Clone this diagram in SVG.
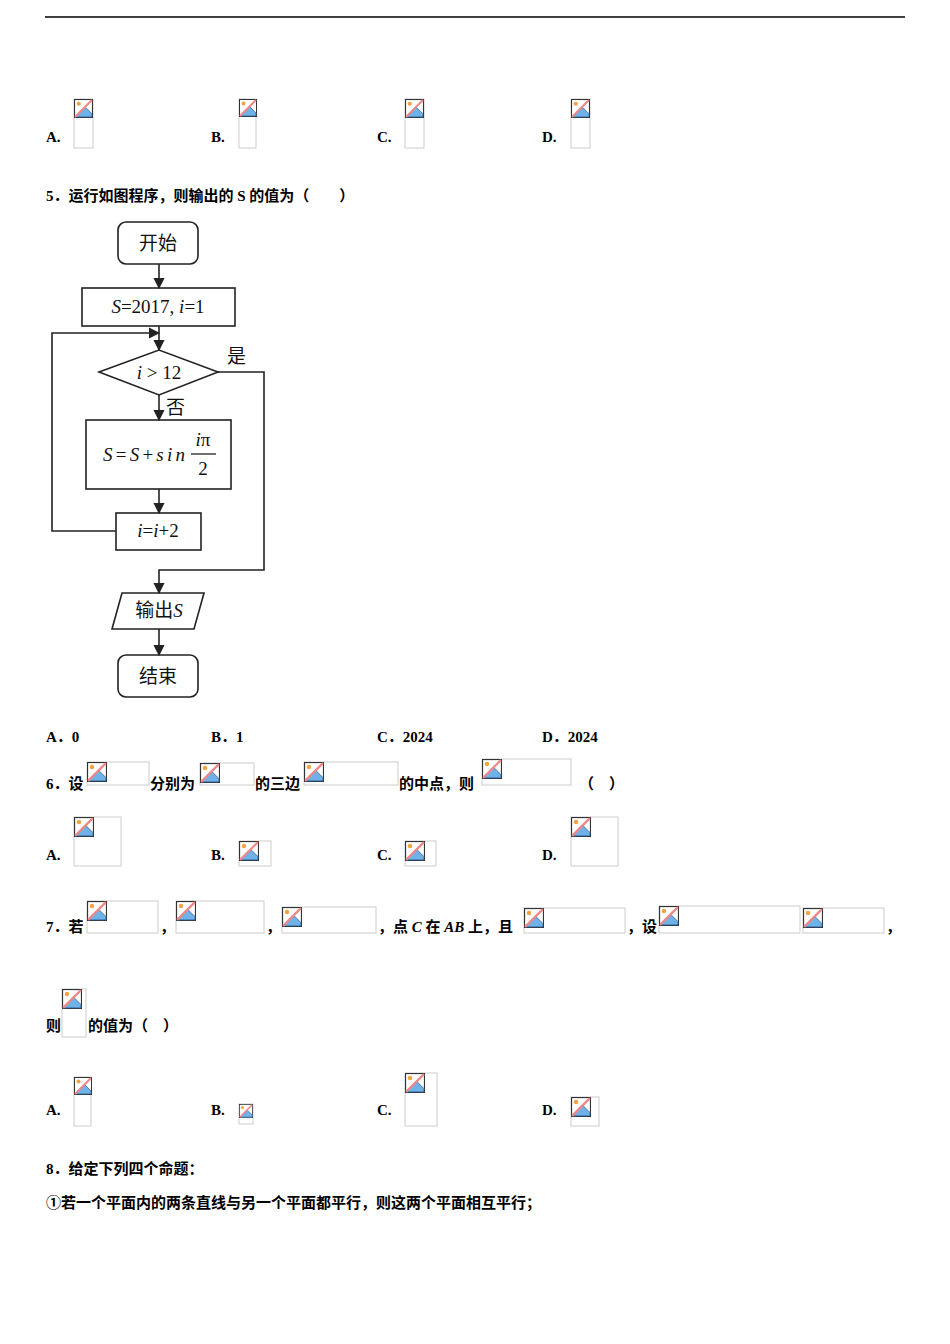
<svg xmlns="http://www.w3.org/2000/svg" width="950" height="1344" viewBox="0 0 950 1344">
<style>
.t{font-family:"Liberation Serif","Noto Sans CJK SC",serif;font-size:15px;font-weight:bold;fill:#000}
.ph{fill:#fff;stroke:#ccc;stroke-width:1}
.f{fill:none;stroke:#222;stroke-width:1.6}
.fl{fill:none;stroke:#222;stroke-width:1.6}
.ft{font-family:"Liberation Serif","Noto Sans CJK SC",serif;font-size:19px;fill:#111}
</style>
<defs>
<symbol id="ic" viewBox="0 0 18 18" overflow="visible">
<rect x="0.5" y="0.5" width="17" height="17" fill="#fff" stroke="#333"/>
<path d="M1 17 L11 8 L17 14 L17 17 Z" fill="#6fb2e8" stroke="#2a5f9a" stroke-width="0.7"/>
<circle cx="4.5" cy="4.5" r="2" fill="#f4a340"/>
<line x1="1" y1="17" x2="17" y2="1" stroke="#e88" stroke-width="2"/>
</symbol>
<marker id="ar" viewBox="0 0 10 10" refX="9" refY="5" markerWidth="7" markerHeight="7" orient="auto"><path d="M0 0 L10 5 L0 10 Z" fill="#222"/></marker>
</defs>
<line x1="45" y1="17" x2="905" y2="17" stroke="#000" stroke-width="1.5"/>

<g id="q4opts">
<text class="t" x="46" y="142">A.</text><rect class="ph" x="74" y="99" width="19" height="49"/><use href="#ic" x="74" y="99" width="19" height="19"/>
<text class="t" x="211" y="142">B.</text><rect class="ph" x="239" y="99" width="17" height="49"/><use href="#ic" x="239" y="99" width="18" height="18"/>
<text class="t" x="377" y="142">C.</text><rect class="ph" x="405" y="99" width="19" height="49"/><use href="#ic" x="405" y="99" width="19" height="19"/>
<text class="t" x="542" y="142">D.</text><rect class="ph" x="571" y="99" width="19" height="49"/><use href="#ic" x="571" y="99" width="19" height="19"/>
</g>

<text class="t" x="46" y="201">5．运行如图程序，则输出的 S 的值为（　　）</text>

<g id="flow">
<g id="n-start"><rect class="f" x="118" y="222" width="80" height="42" rx="8"/><text class="ft" x="158" y="250" text-anchor="middle">开始</text></g>
<g id="n-init"><rect class="f" x="82" y="288" width="153" height="38"/><text class="ft" x="158" y="313" text-anchor="middle"><tspan font-style="italic">S</tspan>=2017, <tspan font-style="italic">i</tspan>=1</text></g>
<g id="n-cond"><polygon class="f" points="99,372 159,350 218,372 159,395"/><text class="ft" x="159" y="379" text-anchor="middle"><tspan font-style="italic">i</tspan> &gt; 12</text></g>
<g id="n-body"><rect class="f" x="86" y="420" width="145" height="69"/><text class="ft" x="103" y="461" textLength="82"><tspan font-style="italic">S</tspan>=<tspan font-style="italic">S</tspan>+<tspan font-style="italic">sin</tspan></text><text class="ft" x="203" y="446" text-anchor="middle"><tspan font-style="italic">i</tspan>π</text><line x1="191" y1="454" x2="216" y2="454" stroke="#111" stroke-width="1.2"/><text class="ft" x="203" y="475" text-anchor="middle">2</text></g>
<g id="n-inc"><rect class="f" x="116" y="513" width="85" height="37"/><text class="ft" x="158" y="537" text-anchor="middle"><tspan font-style="italic">i</tspan>=<tspan font-style="italic">i</tspan>+2</text></g>
<g id="n-out"><polygon class="f" points="122,593 204,593 194,629 112,629"/><text class="ft" x="159" y="617" text-anchor="middle">输出<tspan font-style="italic">S</tspan></text></g>
<g id="n-end"><rect class="f" x="118" y="655" width="80" height="42" rx="8"/><text class="ft" x="158" y="683" text-anchor="middle">结束</text></g>
<g id="edges">
<line class="fl" x1="159" y1="264" x2="159" y2="288" marker-end="url(#ar)"/>
<line class="fl" x1="159" y1="326" x2="159" y2="350" marker-end="url(#ar)"/>
<line class="fl" x1="159" y1="395" x2="159" y2="420" marker-end="url(#ar)"/>
<line class="fl" x1="159" y1="489" x2="159" y2="513" marker-end="url(#ar)"/>
<polyline class="fl" points="116,531 52,531 52,333 159,333" marker-end="url(#ar)"/>
<polyline class="fl" points="218,372 264,372 264,570 159,570 159,593" marker-end="url(#ar)"/>
<line class="fl" x1="159" y1="629" x2="159" y2="655" marker-end="url(#ar)"/>
<text class="ft" x="227" y="363">是</text>
<text class="ft" x="166" y="414">否</text>
</g>
</g>

<g id="q5opts">
<text class="t" x="46" y="742">A．0</text>
<text class="t" x="211" y="742">B．1</text>
<text class="t" x="377" y="742">C．2024</text>
<text class="t" x="542" y="742">D．2024</text>
</g>

<g id="q6">
<text class="t" x="46" y="789">6．设</text>
<rect class="ph" x="87" y="762" width="62" height="23"/><use href="#ic" x="87" y="762" width="20" height="20"/>
<text class="t" x="150" y="789">分别为</text>
<rect class="ph" x="200" y="763" width="54" height="22"/><use href="#ic" x="200" y="763" width="20" height="20"/>
<text class="t" x="255" y="789">的三边</text>
<rect class="ph" x="304" y="762" width="94" height="23"/><use href="#ic" x="304" y="762" width="20" height="20"/>
<text class="t" x="399" y="789">的中点，则</text>
<rect class="ph" x="482" y="759" width="89" height="26"/><use href="#ic" x="482" y="759" width="20" height="20"/>
<text class="t" x="579" y="789">（　）</text>
</g>
<g id="q6opts">
<text class="t" x="46" y="860">A.</text><rect class="ph" x="74" y="817" width="47" height="49"/><use href="#ic" x="74" y="817" width="20" height="20"/>
<text class="t" x="211" y="860">B.</text><rect class="ph" x="239" y="841" width="32" height="25"/><use href="#ic" x="239" y="841" width="20" height="20"/>
<text class="t" x="377" y="860">C.</text><rect class="ph" x="405" y="841" width="31" height="25"/><use href="#ic" x="405" y="841" width="20" height="20"/>
<text class="t" x="542" y="860">D.</text><rect class="ph" x="571" y="817" width="47" height="49"/><use href="#ic" x="571" y="817" width="20" height="20"/>
</g>

<g id="q7">
<text class="t" x="46" y="932">7．若</text>
<rect class="ph" x="87" y="901" width="71" height="32"/><use href="#ic" x="87" y="901" width="20" height="20"/>
<text class="t" x="160" y="932">，</text>
<rect class="ph" x="176" y="901" width="88" height="32"/><use href="#ic" x="176" y="901" width="20" height="20"/>
<text class="t" x="266" y="932">，</text>
<rect class="ph" x="282" y="907" width="94" height="26"/><use href="#ic" x="282" y="907" width="20" height="20"/>
<text class="t" x="378" y="932">，点 <tspan font-style="italic">C</tspan> 在 <tspan font-style="italic">AB</tspan> 上，且</text>
<rect class="ph" x="524" y="908" width="101" height="25"/><use href="#ic" x="524" y="908" width="20" height="20"/>
<text class="t" x="627" y="932">，设</text>
<rect class="ph" x="659" y="906" width="141" height="27"/><use href="#ic" x="659" y="906" width="20" height="20"/>
<rect class="ph" x="803" y="908" width="81" height="25"/><use href="#ic" x="803" y="908" width="20" height="20"/>
<text class="t" x="886" y="932">，</text>
<text class="t" x="46" y="1031">则</text>
<rect class="ph" x="62" y="989" width="24" height="48"/><use href="#ic" x="62" y="989" width="20" height="20"/>
<text class="t" x="88" y="1031">的值为（　）</text>
</g>
<g id="q7opts">
<text class="t" x="46" y="1115">A.</text><rect class="ph" x="74" y="1077" width="17" height="49"/><use href="#ic" x="74" y="1077" width="18" height="18"/>
<text class="t" x="211" y="1115">B.</text><rect class="ph" x="239" y="1104" width="14" height="20"/><use href="#ic" x="239" y="1104" width="14" height="14"/>
<text class="t" x="377" y="1115">C.</text><rect class="ph" x="405" y="1073" width="32" height="53"/><use href="#ic" x="405" y="1073" width="20" height="20"/>
<text class="t" x="542" y="1115">D.</text><rect class="ph" x="571" y="1097" width="28" height="29"/><use href="#ic" x="571" y="1097" width="20" height="20"/>
</g>

<text class="t" x="46" y="1174">8．给定下列四个命题：</text>
<text class="t" x="46" y="1208">①若一个平面内的两条直线与另一个平面都平行，则这两个平面相互平行；</text>
</svg>
